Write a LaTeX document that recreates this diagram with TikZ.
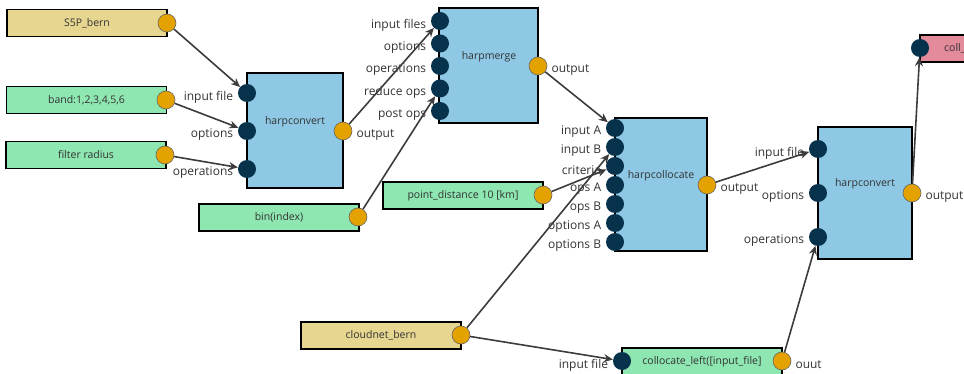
\documentclass[tikz,border=0pt]{standalone}
\usepackage{fontspec}
\setmainfont{Open Sans}
\usetikzlibrary{arrows.meta,positioning}

\definecolor{srcyellow}{HTML}{E6D690}
\definecolor{optgreen}{HTML}{8EE6B1}
\definecolor{stepblue}{HTML}{8EC8E5}
\definecolor{sinkpink}{HTML}{E38A9B}
\definecolor{portorange}{HTML}{E3A200}
\definecolor{portnavy}{HTML}{07324C}
\definecolor{wiregray}{HTML}{3C3C3C}
\definecolor{labelgray}{HTML}{333333}

\begin{document}
\begin{tikzpicture}[x=1pt, y=-1pt,
  databox/.style={draw=black, line width=1.4pt, inner sep=0pt, minimum width=160pt,
    minimum height=27pt, text=labelgray, font=\fontsize{10.5}{12}\selectfont},
  stepbox/.style={draw=black, line width=1.4pt, fill=stepblue, inner sep=0pt},
  steptitle/.style={text=labelgray, inner sep=0pt, font=\fontsize{10.5}{12}\selectfont},
  inport/.style={circle, fill=portnavy, minimum size=18pt, inner sep=0pt},
  outport/.style={circle, fill=portorange, draw=black!60, line width=0.6pt, minimum size=18pt, inner sep=0pt},
  portname/.style={text=labelgray, inner sep=0pt, font=\fontsize{12}{14}\selectfont},
  wire/.style={draw=wiregray, line width=1.6pt, -{Stealth[length=9pt, width=8pt]}}]
\useasboundingbox (0,0) rectangle (964,374);
\clip (0,0) rectangle (964,374);

%--- SOURCES AND PARAMETERS ---
\node[databox, fill=srcyellow] (s5p) at (87,23) {S5P\_bern};
\node[outport] (s5p-out) at (167,23) {};
\node[databox, fill=optgreen] (band) at (86.5,100) {band:1,2,3,4,5,6};
\node[outport] (band-out) at (166,100) {};
\node[databox, fill=optgreen] (radius) at (86,155) {filter radius};
\node[outport] (radius-out) at (165,155) {};
\node[databox, fill=optgreen] (bin) at (279,217.5) {bin(index)};
\node[outport] (bin-out) at (358,217) {};
\node[databox, fill=optgreen] (dist) at (463,195.5) {point\_distance 10 [km]};
\node[outport] (dist-out) at (543,195) {};
\node[databox, fill=srcyellow] (cloud) at (381,335.5) {cloudnet\_bern};
\node[outport] (cloud-out) at (461,335) {};

%--- HARPCONVERT (first) ---
\node[stepbox, minimum width=96pt, minimum height=115pt] (conv1) at (295,130.5) {};
\node[steptitle] (conv1-title) at (295,122) {harpconvert};
\node[inport] (conv1-file) at (247,93) {};
\node[inport] (conv1-opt) at (247,131) {};
\node[inport] (conv1-ops) at (247,169) {};
\node[outport] (conv1-out) at (343,131) {};
\node[portname, left=4.5pt of conv1-file, yshift=-4pt] (conv1-file-lbl) {input file};
\node[portname, left=4.5pt of conv1-opt, yshift=-4pt] (conv1-opt-lbl) {options};
\node[portname, left=4.5pt of conv1-ops, yshift=-4pt] (conv1-ops-lbl) {operations};
\node[portname, right=4pt of conv1-out, yshift=-4pt] (conv1-out-lbl) {output};

%--- HARPMERGE ---
\node[stepbox, minimum width=99pt, minimum height=115pt] (merge) at (488.5,65.5) {};
\node[steptitle] (merge-title) at (489,57) {harpmerge};
\node[inport] (merge-files) at (440,21) {};
\node[inport] (merge-opt) at (440,43.5) {};
\node[inport] (merge-ops) at (440,66) {};
\node[inport] (merge-reduce) at (440,88.5) {};
\node[inport] (merge-post) at (440,111) {};
\node[outport] (merge-out) at (538,66) {};
\node[portname, left=4.5pt of merge-files, yshift=-4pt] (merge-files-lbl) {input files};
\node[portname, left=4.5pt of merge-opt, yshift=-4pt] (merge-opt-lbl) {options};
\node[portname, left=4.5pt of merge-ops, yshift=-4pt] (merge-ops-lbl) {operations};
\node[portname, left=4.5pt of merge-reduce, yshift=-4pt] (merge-reduce-lbl) {reduce ops};
\node[portname, left=4.5pt of merge-post, yshift=-4pt] (merge-post-lbl) {post ops};
\node[portname, right=4pt of merge-out, yshift=-4pt] (merge-out-lbl) {output};

%--- HARPCOLLOCATE ---
\node[stepbox, minimum width=92pt, minimum height=133pt] (coll) at (661,184.5) {};
\node[steptitle] (coll-title) at (661,176) {harpcollocate};
\node[inport] (coll-inA) at (615,128) {};
\node[inport] (coll-inB) at (615,147) {};
\node[inport] (coll-crit) at (615,166) {};
\node[inport] (coll-opsA) at (615,185) {};
\node[inport] (coll-opsB) at (615,204) {};
\node[inport] (coll-optA) at (615,223) {};
\node[inport] (coll-optB) at (615,242) {};
\node[outport] (coll-out) at (707,185) {};
\node[portname, left=4.5pt of coll-inA, yshift=-4pt] (coll-inA-lbl) {input A};
\node[portname, left=4.5pt of coll-inB, yshift=-4pt] (coll-inB-lbl) {input B};
\node[portname, left=4.5pt of coll-crit, yshift=-4pt] (coll-crit-lbl) {criteria};
\node[portname, left=4.5pt of coll-opsA, yshift=-4pt] (coll-opsA-lbl) {ops A};
\node[portname, left=4.5pt of coll-opsB, yshift=-4pt] (coll-opsB-lbl) {ops B};
\node[portname, left=4.5pt of coll-optA, yshift=-4pt] (coll-optA-lbl) {options A};
\node[portname, left=4.5pt of coll-optB, yshift=-4pt] (coll-optB-lbl) {options B};
\node[portname, right=4pt of coll-out, yshift=-4pt] (coll-out-lbl) {output};

%--- COLLOCATE LEFT ---
\node[databox, fill=optgreen] (left) at (702,361.5) {collocate\_left([input\_file]};
\node[inport] (left-in) at (622,361) {};
\node[outport] (left-out) at (782,361) {};
\node[portname, left=4.5pt of left-in, yshift=-4pt] (left-in-lbl) {input file};
\node[portname, right=4pt of left-out, yshift=-4pt] (left-out-lbl) {ouut};

%--- HARPCONVERT (second) ---
\node[stepbox, minimum width=94pt, minimum height=132pt] (conv2) at (865,193) {};
\node[steptitle] (conv2-title) at (865,184) {harpconvert};
\node[inport] (conv2-file) at (818,149) {};
\node[inport] (conv2-opt) at (818,193) {};
\node[inport] (conv2-ops) at (818,237) {};
\node[outport] (conv2-out) at (912,193) {};
\node[portname, left=4.5pt of conv2-file, yshift=-4pt] (conv2-file-lbl) {input file};
\node[portname, left=4.5pt of conv2-opt, yshift=-4pt] (conv2-opt-lbl) {options};
\node[portname, left=4.5pt of conv2-ops, yshift=-4pt] (conv2-ops-lbl) {operations};
\node[portname, right=4pt of conv2-out, yshift=-4pt] (conv2-out-lbl) {output};

%--- OUTPUT (cut at the right edge) ---
\node[databox, fill=sinkpink, minimum width=100pt] (collout) at (970,48.5) {};
\node[inport] (collout-in) at (920,48) {};
\node[steptitle, anchor=west] (collout-name) at (944,48) {coll\_};

%--- CONNECTIONS ---
\draw[wire] (s5p-out) -- (conv1-file);
\draw[wire] (band-out) -- (conv1-opt);
\draw[wire] (radius-out) -- (conv1-ops);
\draw[wire] (conv1-out) -- (merge-files);
\draw[wire] (bin-out) -- (merge-reduce);
\draw[wire] (merge-out) -- (coll-inA);
\draw[wire] (dist-out) -- (coll-crit);
\draw[wire] (cloud-out) -- (coll-inB);
\draw[wire] (cloud-out) -- (left-in);
\draw[wire] (coll-out) -- (conv2-file);
\draw[wire] (left-out) -- (conv2-ops);
\draw[wire] (conv2-out) -- (collout-in);
\end{tikzpicture}
\end{document}
